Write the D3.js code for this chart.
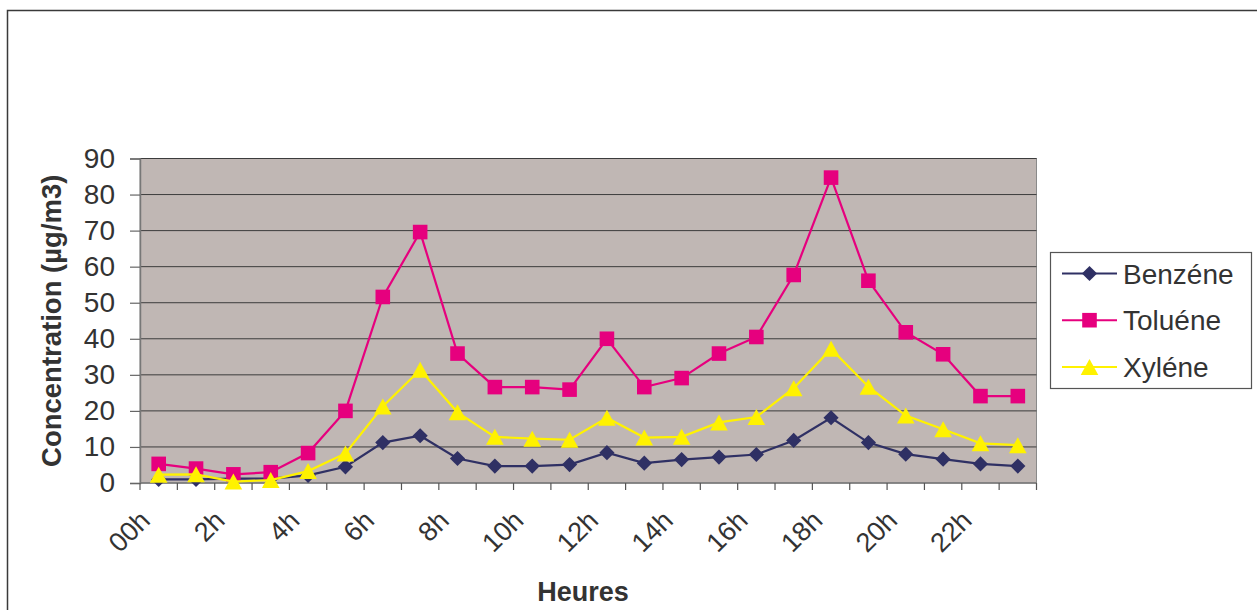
<!DOCTYPE html>
<html>
<head>
<meta charset="utf-8">
<script src="https://cdn.jsdelivr.net/npm/d3@7"></script>
<style>
  html, body { margin: 0; padding: 0; background: #fff; }
  svg { display: block; font-family: "Liberation Sans", Arial, sans-serif; }
</style>
</head>
<body>
<svg id="chart" width="1257" height="610"></svg>
<script>
// Hourly categories (24 slots)
const hours = ["00h","1h","2h","3h","4h","5h","6h","7h","8h","9h","10h","11h",
               "12h","13h","14h","15h","16h","17h","18h","19h","20h","21h","22h","23h"];

// Concentrations in µg/m3
const benzene = [1.0, 1.0, 1.2, 1.2, 2.1, 4.5, 11.2, 13.1, 6.8, 4.7, 4.7, 5.1,
                 8.4, 5.5, 6.5, 7.2, 7.9, 11.8, 18.1, 11.2, 8.0, 6.6, 5.3, 4.7];
const toluene = [5.3, 4.0, 2.4, 3.0, 8.3, 20.0, 51.6, 69.6, 35.9, 26.6, 26.6, 25.9,
                 40.0, 26.6, 29.1, 35.9, 40.5, 57.7, 84.7, 56.1, 41.8, 35.7, 24.1, 24.1];
const xylene  = [2.3, 2.4, 0.4, 0.8, 3.3, 8.2, 21.2, 31.4, 19.6, 12.8, 12.3, 12.0,
                 18.1, 12.6, 12.8, 16.8, 18.3, 26.3, 37.2, 26.7, 18.7, 14.9, 11.0, 10.5];

const yTicks = [0, 10, 20, 30, 40, 50, 60, 70, 80, 90];
const xLabels = ["00h","2h","4h","6h","8h","10h","12h","14h","16h","18h","20h","22h"];

const seriesNames = ["Benzéne", "Toluéne", "Xyléne"];
const seriesColors = ["#2f3064", "#e6007e", "#fff200"];

// Marker shapes, centred on their bounding box
const diamond = { draw(ctx) { const r = 7.6; ctx.moveTo(0, -r); ctx.lineTo(r, 0); ctx.lineTo(0, r); ctx.lineTo(-r, 0); ctx.closePath(); } };
const square  = { draw(ctx) { const r = 7.3; ctx.moveTo(-r, -r); ctx.lineTo(r, -r); ctx.lineTo(r, r); ctx.lineTo(-r, r); ctx.closePath(); } };
const triangle = { draw(ctx) { const w = 8.8, h = 8; ctx.moveTo(0, -h); ctx.lineTo(w, h); ctx.lineTo(-w, h); ctx.closePath(); } };
const seriesSymbols = [diamond, square, triangle];

const svg = d3.select("#chart");
const W = 1257, H = 610;
const plot = { left: 140, top: 158.5, right: 1036.5, bottom: 483 };

// Outer chart frame
svg.append("rect")
  .attr("x", 7.5).attr("y", 10.5)
  .attr("width", W).attr("height", H)
  .attr("fill", "#fff").attr("stroke", "#3a3a3a").attr("stroke-width", 1.5);

const x = d3.scaleBand().domain(hours).range([plot.left, plot.right]).padding(0);
const y = d3.scaleLinear().domain([0, 90]).range([plot.bottom, plot.top]);

// Plot area
svg.append("rect")
  .attr("x", plot.left).attr("y", plot.top)
  .attr("width", plot.right - plot.left).attr("height", plot.bottom - plot.top)
  .attr("fill", "#c0b7b4").attr("stroke", "#8a8a8a").attr("stroke-width", 1);

// Gridlines
svg.append("g").selectAll("line")
  .data(yTicks.filter(d => d > 0))
  .join("line")
  .attr("x1", plot.left).attr("x2", plot.right)
  .attr("y1", d => y(d)).attr("y2", d => y(d))
  .attr("stroke", "#3c3c3c").attr("stroke-width", 1);

// Y axis
const yAxis = svg.append("g")
  .attr("transform", `translate(${plot.left},0)`)
  .call(d3.axisLeft(y).tickValues(yTicks).tickSize(10).tickPadding(15));
yAxis.select(".domain").attr("stroke", "#777").attr("stroke-width", 1.5);
yAxis.selectAll(".tick line").attr("stroke", "#666").attr("stroke-width", 1.2);
yAxis.selectAll(".tick text")
  .attr("font-size", 28).attr("fill", "#333")
  .attr("font-family", "Liberation Sans, Arial, sans-serif");

// X axis: ticks between categories
const xAxisG = svg.append("g");
xAxisG.append("line")
  .attr("x1", plot.left).attr("x2", plot.right)
  .attr("y1", plot.bottom).attr("y2", plot.bottom)
  .attr("stroke", "#777").attr("stroke-width", 1.5);
const boundaries = hours.map(h => x(h)).concat([x(hours[hours.length - 1]) + x.bandwidth()]);
xAxisG.selectAll("line.tk")
  .data(boundaries)
  .join("line").attr("class", "tk")
  .attr("x1", d => d).attr("x2", d => d)
  .attr("y1", plot.bottom).attr("y2", plot.bottom + 7)
  .attr("stroke", "#555").attr("stroke-width", 1.2);
xAxisG.selectAll("text")
  .data(xLabels)
  .join("text")
  .attr("transform", d => `translate(${x(d) + x.bandwidth() / 2 - 7},${plot.bottom + 39}) rotate(-45)`)
  .attr("text-anchor", "end")
  .attr("font-size", 27).attr("fill", "#333")
  .text(d => d);

// Axis titles
svg.append("text")
  .attr("transform", `translate(61,${(plot.top + plot.bottom) / 2}) rotate(-90)`)
  .attr("text-anchor", "middle")
  .attr("font-size", 27.5).attr("font-weight", "bold").attr("fill", "#333")
  .text("Concentration (µg/m3)");
svg.append("text")
  .attr("x", 583).attr("y", 601)
  .attr("text-anchor", "middle")
  .attr("font-size", 27).attr("font-weight", "bold").attr("fill", "#333")
  .text("Heures");

// Series lines and markers
const allSeries = [benzene, toluene, xylene];
const line = d3.line()
  .x((d, i) => x(hours[i]) + x.bandwidth() / 2)
  .y(d => y(d));

const seriesG = svg.append("g");
allSeries.forEach((vals, s) => {
  const g = seriesG.append("g");
  g.append("path")
    .datum(vals)
    .attr("d", line)
    .attr("fill", "none")
    .attr("stroke", seriesColors[s])
    .attr("stroke-width", 2.2);
  g.selectAll("path.m")
    .data(vals)
    .join("path").attr("class", "m")
    .attr("transform", (d, i) => `translate(${x(hours[i]) + x.bandwidth() / 2},${y(d)})`)
    .attr("d", d3.symbol().type(seriesSymbols[s]))
    .attr("fill", seriesColors[s]);
});

// Legend
const lg = svg.append("g");
lg.append("rect")
  .attr("x", 1050.5).attr("y", 252.5).attr("width", 201).attr("height", 136)
  .attr("fill", "#fff").attr("stroke", "#555").attr("stroke-width", 1.2);
seriesNames.forEach((name, s) => {
  const cy = 273.5 + s * 46.7;
  lg.append("line")
    .attr("x1", 1062).attr("x2", 1117).attr("y1", cy).attr("y2", cy)
    .attr("stroke", seriesColors[s]).attr("stroke-width", 2);
  lg.append("path")
    .attr("transform", `translate(1089.5,${cy})`)
    .attr("d", d3.symbol().type(seriesSymbols[s]))
    .attr("fill", seriesColors[s]);
  lg.append("text")
    .attr("x", 1123).attr("y", cy).attr("dy", "0.36em")
    .attr("font-size", 28).attr("fill", "#333")
    .text(name);
});
</script>
</body>
</html>
